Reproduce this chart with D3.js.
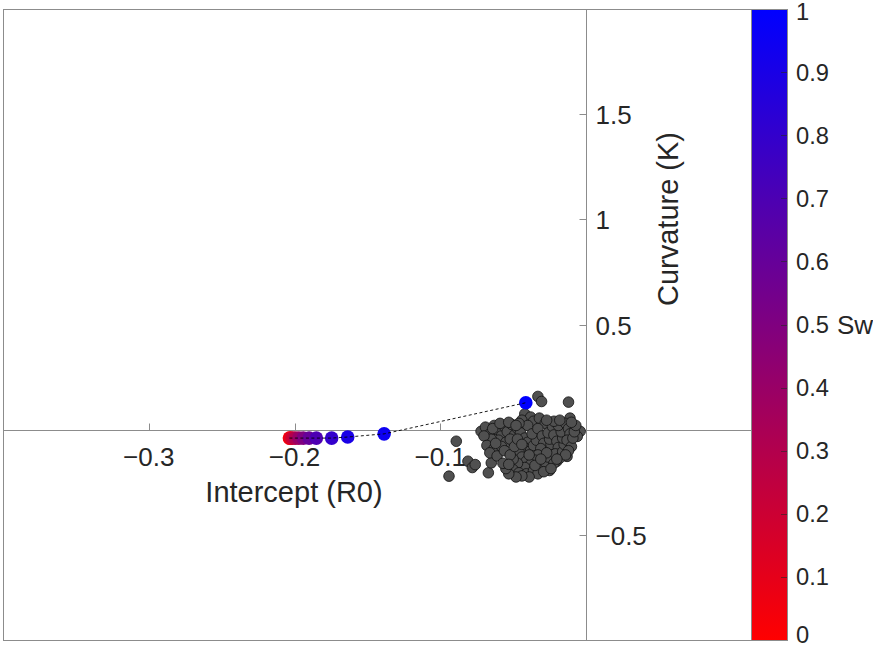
<!DOCTYPE html>
<html>
<head>
<meta charset="utf-8">
<script src="https://cdn.jsdelivr.net/npm/d3@7"></script>
<style>
  body { margin: 0; background: #fff; }
  text { font-family: "Liberation Sans", Arial, sans-serif; fill: #262626; }
</style>
</head>
<body>
<div id="chart"></div>
<script>
// Path of the fitted parameters as Sw goes from 0 to 1
const swValues = [0, 0.1, 0.2, 0.3, 0.4, 0.5, 0.6, 0.7, 0.8, 0.9, 0.95, 1];
const pathR0 = [-0.2035, -0.203, -0.2015, -0.1995, -0.197, -0.194, -0.19, -0.185, -0.1745, -0.1635, -0.1385, -0.0413];
const pathK = [-0.04, -0.04, -0.04, -0.04, -0.04, -0.04, -0.04, -0.04, -0.04, -0.035, -0.02, 0.128];

// Cloud of individual estimates [R0, K]
const cloud = [
  [-0.033, 0.158], [-0.0305, 0.134], [-0.012, 0.131], [-0.011, 0.055], [-0.009, -0.024],
  [-0.004, -0.008], [-0.006, -0.032], [-0.089, -0.055], [-0.094, -0.221], [-0.081, -0.15],
  [-0.078, -0.18], [-0.076, -0.166], [-0.067, -0.205], [-0.065, -0.158], [-0.025, -0.194],
  [-0.02, -0.15], [-0.013, -0.127],
  [-0.072, -0.008], [-0.069, 0.012], [-0.066, -0.02], [-0.063, 0.02], [-0.061, 0.0],
  [-0.058, -0.03], [-0.056, 0.015], [-0.054, -0.01], [-0.051, 0.025], [-0.049, -0.025],
  [-0.047, 0.005], [-0.06, -0.05], [-0.065, -0.045], [-0.07, -0.03], [-0.055, -0.06],
  [-0.052, -0.045], [-0.068, -0.075], [-0.063, -0.09], [-0.058, -0.08], [-0.066, -0.11],
  [-0.061, -0.125], [-0.056, -0.1],
  [-0.042, 0.075], [-0.038, 0.06], [-0.044, 0.045], [-0.036, 0.04], [-0.04, 0.02],
  [-0.032, 0.055], [-0.028, 0.03], [-0.046, 0.03],
  [-0.045, -0.015], [-0.042, -0.04], [-0.04, -0.06], [-0.043, -0.08], [-0.046, -0.105],
  [-0.044, -0.13], [-0.041, -0.15], [-0.038, -0.1], [-0.036, -0.075], [-0.034, -0.05],
  [-0.037, -0.02], [-0.033, 0.005], [-0.03, -0.03], [-0.029, -0.065], [-0.031, -0.09],
  [-0.033, -0.12], [-0.035, -0.145], [-0.038, -0.165], [-0.042, -0.18], [-0.047, -0.16],
  [-0.05, -0.14], [-0.052, -0.12], [-0.049, -0.08], [-0.05, -0.19], [-0.046, -0.205],
  [-0.041, -0.21], [-0.036, -0.195], [-0.031, -0.18], [-0.028, -0.155], [-0.026, -0.13],
  [-0.025, -0.1], [-0.024, -0.07], [-0.025, -0.045], [-0.026, -0.015], [-0.023, 0.015],
  [-0.022, -0.025], [-0.02, -0.055], [-0.019, -0.085], [-0.021, -0.115], [-0.018, -0.135],
  [-0.016, -0.105], [-0.015, -0.07], [-0.016, -0.04], [-0.017, -0.01], [-0.019, 0.02],
  [-0.014, 0.03], [-0.012, 0.005], [-0.011, -0.02], [-0.013, -0.05], [-0.01, -0.08],
  [-0.012, -0.1], [-0.014, -0.12], [-0.009, -0.04], [-0.008, -0.01], [-0.007, 0.02],
  [-0.01, 0.035], [-0.022, 0.04], [-0.027, 0.045], [-0.018, 0.045], [-0.033, -0.21],
  [-0.029, -0.2], [-0.039, -0.225], [-0.044, -0.22], [-0.048, -0.225], [-0.053, -0.21],
  [-0.055, -0.185], [-0.057, -0.16], [-0.053, -0.165], [-0.047, -0.045], [-0.044, -0.07],
  [-0.039, -0.12], [-0.035, -0.17], [-0.027, -0.11], [-0.031, -0.14], [-0.022, -0.16],
  [-0.02, -0.14], [-0.024, -0.185], [-0.062, -0.065], [-0.064, 0.005], [-0.059, 0.03],
  [-0.053, 0.035], [-0.048, 0.02]
];

const xTicks = [-0.3, -0.2, -0.1];
const yTicks = [-0.5, 0.5, 1, 1.5];
const cbTicks = [0, 0.1, 0.2, 0.3, 0.4, 0.5, 0.6, 0.7, 0.8, 0.9, 1];

// MATLAB-style labels with a real minus sign
const fmt = d => String(d).replace("-", "\u2212");

const width = 873, height = 647;
const svg = d3.select("#chart").append("svg")
  .attr("width", width).attr("height", height);

// plot area
const pLeft = 3, pRight = 751, pTop = 9, pBottom = 640;
const x = d3.scaleLinear().domain([-0.4, 0]).range([pLeft, 586]);
const y = d3.scaleLinear().domain([-1, 2]).range([pBottom, pTop]);
const color = d3.scaleLinear().domain([0, 1]).range(["#ff0000", "#0000ff"]);

const defs = svg.append("defs");
defs.append("clipPath").attr("id", "clip")
  .append("rect").attr("x", pLeft).attr("y", pTop)
  .attr("width", pRight - pLeft).attr("height", pBottom - pTop);

// box (top, bottom, left)
const box = svg.append("g").attr("stroke", "#8c8c8c").attr("stroke-width", 1);
box.append("line").attr("x1", pLeft).attr("x2", pRight).attr("y1", pTop + 0.5).attr("y2", pTop + 0.5);
box.append("line").attr("x1", pLeft).attr("x2", pRight).attr("y1", pBottom + 0.5).attr("y2", pBottom + 0.5);
box.append("line").attr("x1", pLeft + 0.5).attr("x2", pLeft + 0.5).attr("y1", pTop).attr("y2", pBottom);

// origin axes
const x0 = Math.round(x(0)) + 0.5, y0 = Math.round(y(0)) + 0.5;
const axes = svg.append("g").attr("stroke", "#8c8c8c").attr("stroke-width", 1);
axes.append("line").attr("x1", pLeft).attr("x2", pRight).attr("y1", y0).attr("y2", y0);
axes.append("line").attr("x1", x0).attr("x2", x0).attr("y1", pTop).attr("y2", pBottom);

// x ticks point up, labels below
const xg = svg.append("g");
xg.selectAll("line").data(xTicks).join("line")
  .attr("x1", d => Math.round(x(d)) + 0.5).attr("x2", d => Math.round(x(d)) + 0.5)
  .attr("y1", y0).attr("y2", y0 - 7)
  .attr("stroke", "#8c8c8c");
xg.selectAll("text").data(xTicks).join("text")
  .attr("x", d => x(d)).attr("y", y0 + 35)
  .attr("text-anchor", "middle").attr("font-size", 26)
  .text(fmt);

// y ticks point left, labels right
const yg = svg.append("g");
yg.selectAll("line").data(yTicks).join("line")
  .attr("x1", x0).attr("x2", x0 - 7)
  .attr("y1", d => Math.round(y(d)) + 0.5).attr("y2", d => Math.round(y(d)) + 0.5)
  .attr("stroke", "#8c8c8c");
yg.selectAll("text").data(yTicks).join("text")
  .attr("x", x0 + 9).attr("y", d => y(d) + 10)
  .attr("font-size", 26)
  .text(fmt);

// axis labels
svg.append("text")
  .attr("x", 294).attr("y", 502)
  .attr("text-anchor", "middle").attr("font-size", 29)
  .text("Intercept (R0)");
svg.append("text")
  .attr("transform", `translate(678,${219}) rotate(-90)`)
  .attr("text-anchor", "middle").attr("font-size", 29)
  .text("Curvature (K)");

const plot = svg.append("g").attr("clip-path", "url(#clip)");

// individual estimates
plot.selectAll("circle.cloud").data(cloud).join("circle")
  .attr("class", "cloud")
  .attr("cx", d => x(d[0])).attr("cy", d => y(d[1]))
  .attr("r", 5.3)
  .attr("fill", "#505050").attr("stroke", "#111").attr("stroke-width", 0.8);

// Sw path
const pathData = swValues.map((s, i) => ({ sw: s, r0: pathR0[i], k: pathK[i] }));
plot.selectAll("circle.sw").data(pathData).join("circle")
  .attr("class", "sw")
  .attr("cx", d => x(d.r0)).attr("cy", d => y(d.k))
  .attr("r", 6.8)
  .attr("fill", d => color(d.sw));
plot.append("path")
  .datum(pathData)
  .attr("d", d3.line().x(d => x(d.r0)).y(d => y(d.k)))
  .attr("fill", "none").attr("stroke", "#000")
  .attr("stroke-width", 0.9).attr("stroke-dasharray", "3,2.5");

// colorbar
const cbX = 751, cbW = 36;
const cbY = d3.scaleLinear().domain([0, 1]).range([pBottom, pTop]);
const grad = defs.append("linearGradient")
  .attr("id", "cbgrad").attr("x1", 0).attr("y1", 1).attr("x2", 0).attr("y2", 0);
grad.append("stop").attr("offset", 0).attr("stop-color", color(0));
grad.append("stop").attr("offset", 1).attr("stop-color", color(1));
svg.append("rect")
  .attr("x", cbX + 0.5).attr("y", pTop + 0.5)
  .attr("width", cbW).attr("height", pBottom - pTop)
  .attr("fill", "url(#cbgrad)").attr("stroke", "#8c8c8c");
const cb = svg.append("g");
cb.selectAll("line").data(cbTicks.filter(d => d > 0 && d < 1)).join("line")
  .attr("x1", cbX + cbW - 6).attr("x2", cbX + cbW)
  .attr("y1", d => Math.round(cbY(d)) + 0.5).attr("y2", d => Math.round(cbY(d)) + 0.5)
  .attr("stroke", "#262626").attr("stroke-opacity", 0.6);
// keep the end labels just inside the page
cb.selectAll("text").data(cbTicks).join("text")
  .attr("x", cbX + cbW + 9).attr("y", d => Math.max(20, Math.min(cbY(d) + 8.5, 643)))
  .attr("font-size", 23.7)
  .text(d => d);
svg.append("text")
  .attr("x", 837).attr("y", cbY(0.5) + 9)
  .attr("font-size", 26)
  .text("Sw");
</script>
</body>
</html>
